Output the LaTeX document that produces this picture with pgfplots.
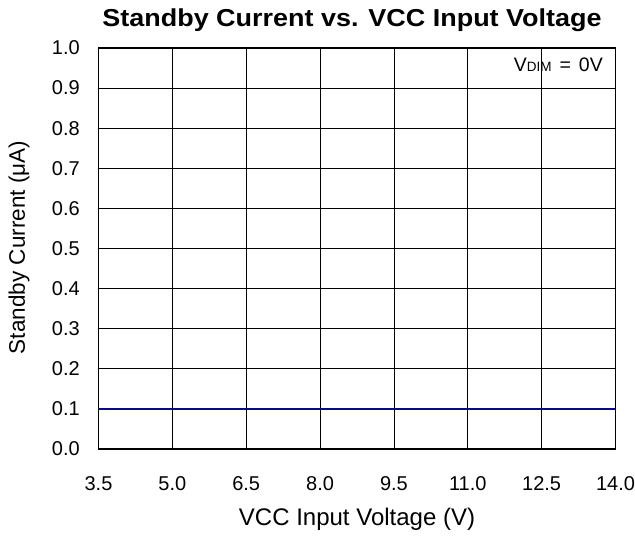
\documentclass[border=0pt]{standalone}
\usepackage{fontspec}
\setmainfont{Liberation Sans}
\newfontfamily\titlefont{Liberation Sans}[FakeStretch=1.1]
\usepackage{pgfplots}
\pgfplotsset{compat=1.18}
\usetikzlibrary{calc}
\definecolor{navyline}{RGB}{10,10,135}
\begin{document}
\begin{tikzpicture}
\begin{axis}[
  scale only axis,
  width=517bp, height=401bp,
  xmin=3.5, xmax=14, ymin=0, ymax=1,
  xtick={3.5,5,6.5,8,9.5,11,12.5,14},
  ytick={0,0.1,0.2,0.3,0.4,0.5,0.6,0.7,0.8,0.9,1.0},
  xticklabels={3.5,5.0,6.5,8.0,9.5,11.0,12.5,14.0},
  yticklabels={0.0,0.1,0.2,0.3,0.4,0.5,0.6,0.7,0.8,0.9,1.0},
  /pgf/number format/assume math mode=true,
  grid=major,
  major grid style={black, line width=0.75bp},
  axis line style={black, line width=1.3bp},
  major tick length=0pt,
  tick style={draw=none},
  ticklabel style={font=\fontsize{20bp}{22bp}\selectfont, inner sep=0pt},
  xticklabel style={anchor=base, yshift=-41bp},
  yticklabel style={anchor=east, xshift=-18.5bp},
  xlabel={VCC Input Voltage (V)},
  xlabel style={font=\fontsize{24bp}{26bp}\selectfont, at={(axis description cs:0.5,0)}, anchor=base, yshift=-76bp, inner sep=0pt},
]
\addplot[navyline, line width=2.4bp] coordinates {
(3.5,0.1) (4.0,0.1) (5.0,0.1) (6.0,0.1) (7.0,0.1) (8.0,0.1) (9.0,0.1) (10.0,0.1) (11.0,0.1) (12.0,0.1) (13.0,0.1) (14.0,0.1)
};
\end{axis}
\node[rotate=90, anchor=base, inner sep=0pt, font=\fontsize{22.5bp}{25bp}\selectfont] at ($(current axis.west)+(-73.5bp,1bp)$) {Standby Current (μA)};
\node[anchor=base, inner sep=0pt, font=\titlefont\bfseries\fontsize{24.5bp}{26bp}\selectfont] at ($(current axis.north)+(-5bp,21bp)$) {Standby Current vs. VCC Input Voltage};
\node[anchor=base east, inner sep=0pt] at ($(current axis.north east)+(-12.5bp,-24bp)$) {\fontsize{19.5bp}{21bp}\selectfont V\fontsize{13.5bp}{15bp}\selectfont DIM\hspace{8bp}\fontsize{19.5bp}{21bp}\selectfont=\hspace{8bp}0V};
\pgfresetboundingbox
\path[use as bounding box] ($(current axis.south west)+(-98.5bp,-87bp)$) rectangle ($(current axis.north east)+(19.5bp,48bp)$);
\end{tikzpicture}
\end{document}
